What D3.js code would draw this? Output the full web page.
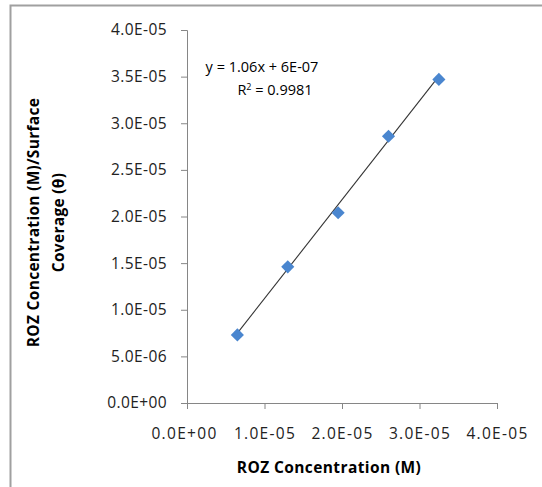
<html>
<head>
  <script src="https://d3js.org/d3.v7.min.js"></script>
  <style>
    body { margin: 0; background: white; font-family: "Open Sans", sans-serif; }
    .axis path, .axis line { stroke: #868686; }
    .axis text { font-family: "Open Sans", sans-serif; font-size: 15.5px; letter-spacing: 0.4px; fill: #222; }
    .xaxis text { letter-spacing: 1.3px; }
  </style>
</head>
<body>
  <svg id="chart" width="542" height="487"></svg>
  <script>
    // data
    const concentration = [6.5e-6, 1.3e-5, 1.95e-5, 2.6e-5, 3.25e-5];
    const ratio = [7.3e-6, 14.6e-6, 20.4e-6, 28.6e-6, 34.7e-6];
    const xTicks = [0, 1e-5, 2e-5, 3e-5, 4e-5];
    const yTicks = [0, 5e-6, 1e-5, 1.5e-5, 2e-5, 2.5e-5, 3e-5, 3.5e-5, 4e-5];
    const trend = { slope: 1.06, intercept: 6e-7 };

    const svg = d3.select("#chart");
    const margin = { top: 30, left: 187, right: 45, bottom: 84 };
    const width = svg.attr("width");
    const height = svg.attr("height");

    // outer frame (only top and left visible)
    svg.append("path")
       .attr("d", "M10.5,487 L10.5,5.5 L542,5.5")
       .attr("fill", "none")
       .attr("stroke", "#a0a0a0")
       .attr("stroke-width", 2);

    const x = d3.scaleLinear().domain([0, 4e-5]).range([margin.left, width - margin.right]);
    const y = d3.scaleLinear().domain([0, 4e-5]).range([height - margin.bottom, margin.top]);

    const fmt = d => d3.format(".1e")(d).replace("e", "E").replace(/E([+-])(\d)$/, "E$10$2");

    svg.append("g")
       .attr("class", "axis xaxis")
       .attr("transform", `translate(0,${y(0)})`)
       .call(d3.axisBottom(x).tickValues(xTicks).tickFormat(fmt).tickSize(6).tickPadding(19))
       .call(g => g.selectAll("text").attr("dx", (d, i) => i == 0 ? -3 : 0));

    svg.append("g")
       .attr("class", "axis")
       .attr("transform", `translate(${x(0)},0)`)
       .call(d3.axisLeft(y).tickValues(yTicks).tickFormat(fmt).tickSize(6).tickPadding(14));

    // trendline across the data range
    const ext = d3.extent(concentration);
    svg.append("line")
       .attr("x1", x(ext[0])).attr("y1", y(trend.slope * ext[0] + trend.intercept))
       .attr("x2", x(ext[1])).attr("y2", y(trend.slope * ext[1] + trend.intercept))
       .attr("stroke", "#333")
       .attr("stroke-width", 1.1);

    const pts = concentration.map((c, i) => ({ c: c, r: ratio[i] }));
    svg.selectAll("path.pt").data(pts)
       .join("path")
       .attr("class", "pt")
       .attr("d", d3.symbol().type(d3.symbolDiamond2).size(110))
       .attr("transform", d => `translate(${x(d.c)},${y(d.r)})`)
       .attr("fill", "#4a86cf");

    // equation
    svg.append("text")
       .attr("x", 262).attr("y", 72)
       .attr("text-anchor", "middle")
       .style("font-size", "14.5px")
       .text("y = 1.06x + 6E-07");
    const r2 = svg.append("text")
       .attr("x", 275).attr("y", 95)
       .attr("text-anchor", "middle")
       .style("font-size", "14.5px");
    r2.append("tspan").text("R");
    r2.append("tspan").attr("dy", -5).style("font-size", "9px").text("2");
    r2.append("tspan").attr("dy", 5).text(" = 0.9981");

    // axis titles
    svg.append("text")
       .attr("x", (x(0) + x(4e-5)) / 2 - 13).attr("y", 473)
       .attr("text-anchor", "middle")
       .style("font-size", "15.5px")
       .style("letter-spacing", "0.4px")
       .style("font-weight", "bold")
       .text("ROZ Concentration (M)");

    const ytitle = svg.append("text")
       .attr("transform", `translate(39,${(y(0) + y(4e-5)) / 2 + 6}) rotate(-90)`)
       .attr("text-anchor", "middle")
       .style("font-size", "15.5px")
       .style("letter-spacing", "0.3px")
       .style("font-weight", "bold");
    ytitle.append("tspan").attr("x", 0).attr("dy", 0).text("ROZ Concentration  (M)/Surface");
    ytitle.append("tspan").attr("x", 0).attr("dy", 25).text("Coverage  (θ)");
  </script>
</body>
</html>
